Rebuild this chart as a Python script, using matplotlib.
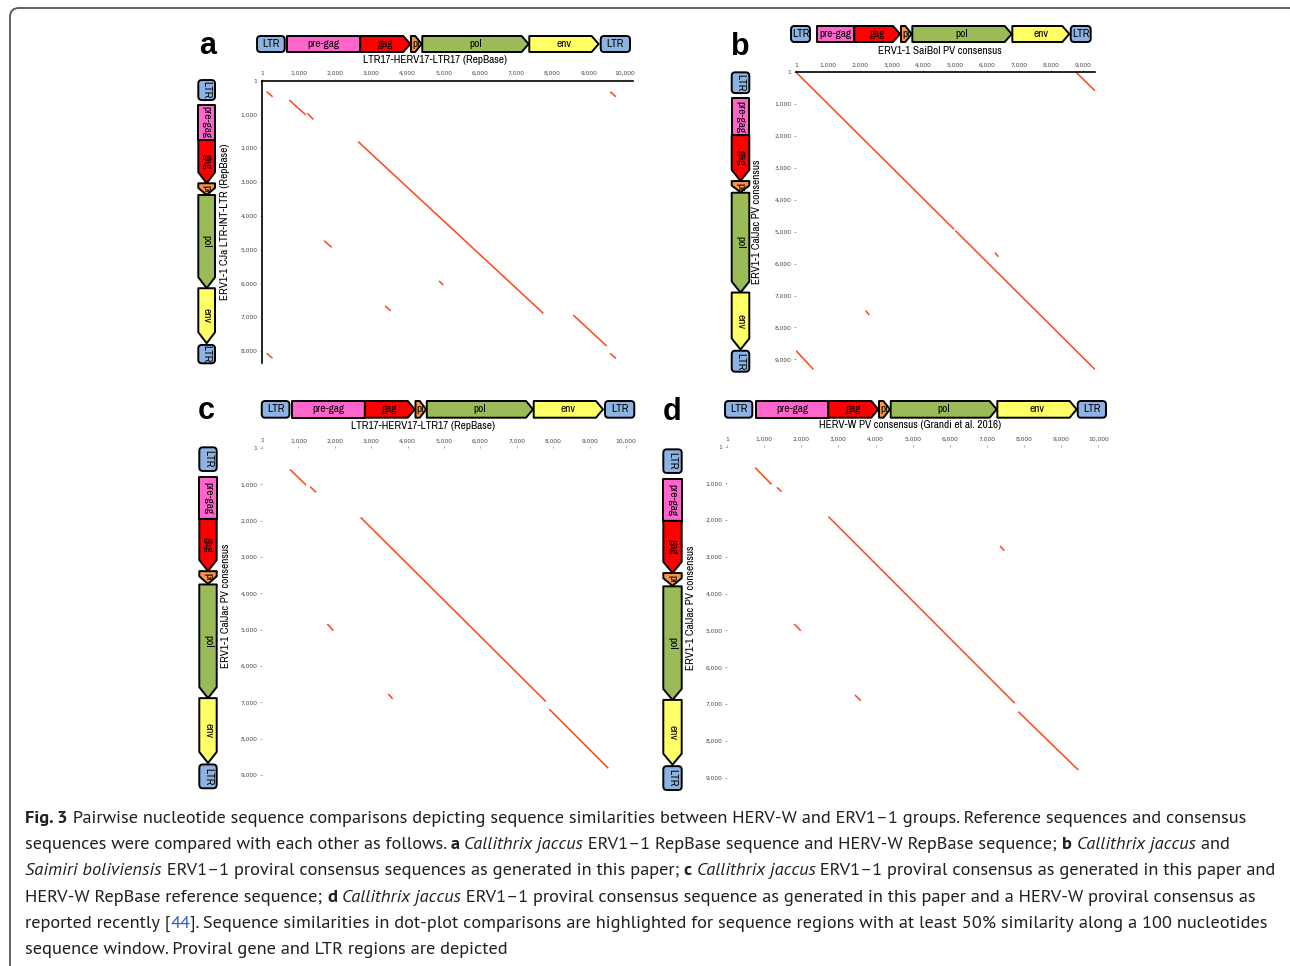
import matplotlib
matplotlib.use("Agg")
import matplotlib.pyplot as plt
from matplotlib import font_manager
from matplotlib.patches import Polygon, FancyBboxPatch

W, H = 1290, 966
fig = plt.figure(figsize=(W / 100, H / 100), dpi=100)
renderer = fig.canvas.get_renderer()

fonts = font_manager.fontManager.ttflist


def pick(names, default, static=False):
    # first installed family; for the caption we want static files with bold + italic
    for n in names:
        fs = [f for f in fonts if f.name == n and not (static and "[" in f.fname)]
        if not fs:
            continue
        if static:
            has_bold = any(f.weight in (700, "bold") for f in fs)
            has_it = any(f.style == "italic" for f in fs)
            if not (has_bold and has_it):
                continue
        return n
    return default


NARROW = pick(["Liberation Sans Narrow", "Arial Narrow", "Archivo Narrow", "PT Sans Narrow",
               "Roboto Condensed", "Fira Sans Condensed", "IBM Plex Sans Condensed"],
              "Liberation Sans")
CAP_FONT = pick(["PT Sans", "Myriad Pro", "Lato"], "Lato", static=True)
DOT = "#ff4516"

# ---- gene maps (bp) ----
gene_names = ["LTR", "pre-gag", "gag", "pr", "pol", "env", "LTR"]
gene_shapes = ["ltr", "box", "arrow", "arrow", "arrow", "arrow", "ltr"]
gene_colors = ["#8db3e2", "#ff66cc", "#ff0000", "#f79646", "#9bbb59", "#ffff66", "#8db3e2"]

herv17_len = 10220
herv17_start = [1, 835, 2828, 4218, 4528, 7461, 9417]
herv17_end = [760, 2828, 4200, 4510, 7442, 9361, 10220]

cja_len = 8360
cja_start = [1, 738, 1770, 3048, 3393, 6145, 7818]
cja_end = [590, 1770, 3048, 3393, 6145, 7768, 8360]

caljac_len = 9360
caljac_start = [1, 805, 1965, 3400, 3765, 6885, 8705]
caljac_end = [650, 1965, 3395, 3750, 6885, 8665, 9360]

saibol_len = 9380
saibol_start = [1, 823, 1981, 3443, 3797, 6927, 8755]
saibol_end = [595, 1981, 3412, 3778, 6908, 8711, 9380]

hervw_len = 10200
hervw_start = [1, 822, 2765, 4123, 4436, 7290, 9442]
hervw_end = [731, 2765, 4104, 4417, 7273, 9415, 10200]

# ---- dot plot hits: x start, y start, x end, y end (bp) ----
hits_a = [(130, 330, 290, 480), (750, 580, 1210, 1020), (1250, 970, 1415, 1150),
          (2650, 1810, 7750, 6890), (1710, 4740, 1920, 4935), (4875, 5930, 4995, 6050),
          (3390, 6670, 3545, 6810), (8575, 6940, 9495, 7855), (9590, 330, 9750, 480),
          (130, 8070, 290, 8220), (9590, 8070, 9750, 8220)]
hits_b = [(1, 1, 4960, 4925), (5000, 4965, 9380, 9315), (8790, 1, 9380, 580),
          (1, 8730, 545, 9315), (6245, 5655, 6350, 5785), (2185, 7475, 2300, 7610)]
hits_c = [(770, 590, 1210, 1020), (1320, 1065, 1485, 1220), (2710, 1910, 7800, 6980),
          (7895, 7190, 9515, 8815), (1795, 4845, 1960, 5025), (3470, 6770, 3590, 6905)]
hits_d = [(755, 575, 1200, 1030), (1345, 1110, 1470, 1227), (2730, 1905, 7750, 6980),
          (7840, 7205, 9455, 8790), (7350, 2705, 7465, 2830), (1810, 4825, 1985, 5005),
          (3445, 6755, 3600, 6905)]

kb_ticks = [1, 1000, 2000, 3000, 4000, 5000, 6000, 7000, 8000, 9000, 10000]


def px_axes(x0, y0, x1, y1, z=1):
    return fig.add_axes([x0 / W, 1 - y1 / H, (x1 - x0) / W, (y1 - y0) / H], zorder=z)


def put(x, y, s, **kw):
    return fig.text(x / W, 1 - y / H, s, **kw)


def run_width(s, kw):
    t = fig.text(0, 0, "|" + s + "|", **kw)
    t0 = fig.text(0, 0, "||", **kw)
    w = t.get_window_extent(renderer).width - t0.get_window_extent(renderer).width
    t.remove()
    t0.remove()
    return w


# label font sized so the subtitle is as wide as in the figure (~144 px)
lab_size = 8 * 144 / run_width("LTR17-HERV17-LTR17 (RepBase)", dict(family=NARROW, fontsize=8))
LAB = dict(family=NARROW, fontsize=lab_size)


def gene_bar(rect, length, starts, ends, vertical):
    x0, y0, x1, y1 = rect
    ax = px_axes(*rect, z=2)
    ax.set_axis_off()
    thick = (x1 - x0) if vertical else (y1 - y0)
    span = (y1 - y0) if vertical else (x1 - x0)
    bp = length / span
    head = (11 if vertical else 7) * bp
    if vertical:
        ax.set_xlim(0, 1)
        ax.set_ylim(length, 0)
    else:
        ax.set_xlim(0, length)
        ax.set_ylim(0, 1)
    for name, shape, col, s, e in zip(gene_names, gene_shapes, gene_colors, starts, ends):
        if shape == "ltr":
            r = 3.5
            if vertical:
                p = FancyBboxPatch((0, s), 1, e - s, boxstyle=f"round,pad=0,rounding_size={r / thick}",
                                   mutation_aspect=bp * thick)
            else:
                p = FancyBboxPatch((s, 0), e - s, 1, boxstyle=f"round,pad=0,rounding_size={r * bp}",
                                   mutation_aspect=1 / (thick * bp))
        else:
            if shape == "box":
                pts = [(s, 0), (e, 0), (e, 1), (s, 1)]
            else:
                h = min(head, 0.6 * (e - s))
                pts = [(s, 0), (e - h, 0), (e, 0.5), (e - h, 1), (s, 1)]
            if vertical:
                pts = [(c, a) for a, c in pts]
            p = Polygon(pts, closed=True)
        p.set(facecolor=col, edgecolor="black", linewidth=1.4, joinstyle="round", clip_on=False)
        ax.add_patch(p)
        mid = (s + e) / 2
        if vertical:
            t = ax.text(0.5, mid, name, rotation=-90, ha="center", va="center", **LAB)
        else:
            t = ax.text(mid, 0.5, name, ha="center", va="center", **LAB)
        t.set_clip_path(p)
    return ax


def dot_plot(rect, xlen, ylen, hits, spines):
    ax = px_axes(*rect)
    ax.set_xlim(0, xlen)
    ax.set_ylim(ylen, 0)
    for x0, y0, x1, y1 in hits:
        ax.plot([x0, x1], [y0, y1], color=DOT, lw=1.1, solid_capstyle="butt")
    xt = [v for v in kb_ticks if v <= xlen]
    yt = [v for v in kb_ticks if v <= ylen]
    ax.xaxis.tick_top()
    ax.set_xticks(xt, [f"{v:,}" for v in xt])
    ax.set_yticks(yt, [f"{v:,}" for v in yt])
    ax.tick_params(labelsize=4.3, labelcolor="#444444", color="#999999",
                   length=1.8, width=0.6, pad=1.5)
    for side, sp in ax.spines.items():
        sp.set_visible(side in spines)
        sp.set_linewidth(1.2)
    ax.patch.set_alpha(0)
    return ax


# background frame
bg = fig.add_axes([0, 0, 1, 1], zorder=0)
bg.set_xlim(0, W)
bg.set_ylim(H, 0)
bg.set_axis_off()
bg.add_patch(FancyBboxPatch((10, 8), 1288, 980, boxstyle="round,pad=0,rounding_size=9",
                            fc="none", ec="#555555", lw=1.3))

panels = [
    dict(letter="a", lpos=(208, 54), ax=(262, 80.5, 633.0, 363.1), spines=("left", "top"),
         top=(herv17_len, herv17_start, herv17_end), top_rect=(257, 36, 630, 52),
         left=(cja_len, cja_start, cja_end), left_rect=(198.3, 80, 215, 363.3),
         hits=hits_a, title="LTR17-HERV17-LTR17 (RepBase)", tpos=(435, 60),
         ylab="ERV1-1 CJa LTR-INT-LTR (RepBase)", ypos=(225, 222)),
    dict(letter="b", lpos=(740, 55), ax=(796, 72.2, 1094.9, 370.8), spines=("top",),
         top=(saibol_len, saibol_start, saibol_end), top_rect=(791, 26, 1090.7, 42),
         left=(caljac_len, caljac_start, caljac_end), left_rect=(731.7, 72.3, 749.3, 371.7),
         hits=hits_b, title="ERV1-1 SaiBol PV consensus", tpos=(940, 50.7),
         ylab="ERV1-1 CalJac PV consensus", ypos=(757, 222)),
    dict(letter="c", lpos=(206, 419), ax=(262, 448, 634.0, 788.1), spines=(),
         top=(herv17_len, herv17_start, herv17_end), top_rect=(261.7, 401, 634.3, 417.7),
         left=(caljac_len, caljac_start, caljac_end), left_rect=(199.3, 447.3, 216.7, 788.3),
         hits=hits_c, title="LTR17-HERV17-LTR17 (RepBase)", tpos=(423, 426),
         ylab="ERV1-1 CalJac PV consensus", ypos=(226, 606)),
    dict(letter="d", lpos=(672, 420), ax=(727, 446.5, 1105.9, 790.9), spines=(),
         top=(hervw_len, hervw_start, hervw_end), top_rect=(725, 401, 1106, 417.7),
         left=(caljac_len, caljac_start, caljac_end), left_rect=(663.3, 449.3, 681.7, 790),
         hits=hits_d, title="HERV-W PV consensus (Grandi et al. 2016)", tpos=(910, 425),
         ylab="ERV1-1 CalJac PV consensus", ypos=(691, 608)),
]

for pn in panels:
    xlen = pn["top"][0]
    ylen = pn["left"][0]
    dot_plot(pn["ax"], xlen, ylen, pn["hits"], pn["spines"])
    gene_bar(pn["top_rect"], *pn["top"], vertical=False)
    gene_bar(pn["left_rect"], *pn["left"], vertical=True)
    put(*pn["lpos"], pn["letter"], family="Liberation Sans", fontsize=22, fontweight="bold",
        ha="center", va="baseline")
    put(*pn["tpos"], pn["title"], ha="center", va="center", **LAB)
    put(*pn["ypos"], pn["ylab"], ha="center", va="center", rotation=90, **LAB)

# ---- caption ----
caption = [
    [("Fig. 3", "b"), (" Pairwise nucleotide sequence comparisons depicting sequence similarities between HERV-W and ERV1\u20131 groups. Reference sequences and consensus", "n")],
    [("sequences were compared with each other as follows. ", "n"), ("a", "b"), (" ", "n"),
     ("Callithrix jaccus", "i"), (" ERV1\u20131 RepBase sequence and HERV-W RepBase sequence; ", "n"),
     ("b", "b"), (" ", "n"), ("Callithrix jaccus", "i"), (" and", "n")],
    [("Saimiri boliviensis", "i"), (" ERV1\u20131 proviral consensus sequences as generated in this paper; ", "n"),
     ("c", "b"), (" ", "n"), ("Callithrix jaccus", "i"),
     (" ERV1\u20131 proviral consensus as generated in this paper and", "n")],
    [("HERV-W RepBase reference sequence; ", "n"), ("d", "b"), (" ", "n"), ("Callithrix jaccus", "i"),
     (" ERV1\u20131 proviral consensus sequence as generated in this paper and a HERV-W proviral consensus as", "n")],
    [("reported recently [", "n"), ("44", "l"),
     ("]. Sequence similarities in dot-plot comparisons are highlighted for sequence regions with at least 50% similarity along a 100 nucleotides", "n")],
    [("sequence window. Proviral gene and LTR regions are depicted", "n")],
]
line_ends = [1278, 1277, 1274, 1268, 1275, 523]


def cap_style(kind, size):
    kw = dict(family=CAP_FONT, fontsize=size, color="#231f20")
    if kind == "b":
        kw["fontweight"] = "bold"
    if kind == "i":
        kw["fontstyle"] = "italic"
    if kind == "l":
        kw["color"] = "#2a62c9"
    return kw


base = 12
natural = [sum(run_width(s, cap_style(k, base)) for s, k in line) for line in caption]
size = base * min((e - 25) / n for e, n in zip(line_ends, natural))

y = 823
for line in caption:
    x = 25
    for s, k in line:
        kw = cap_style(k, size)
        put(x, y, s, ha="left", va="baseline", **kw)
        x += run_width(s, kw)
    y += 26.2

fig.savefig("out.png", dpi=100)
